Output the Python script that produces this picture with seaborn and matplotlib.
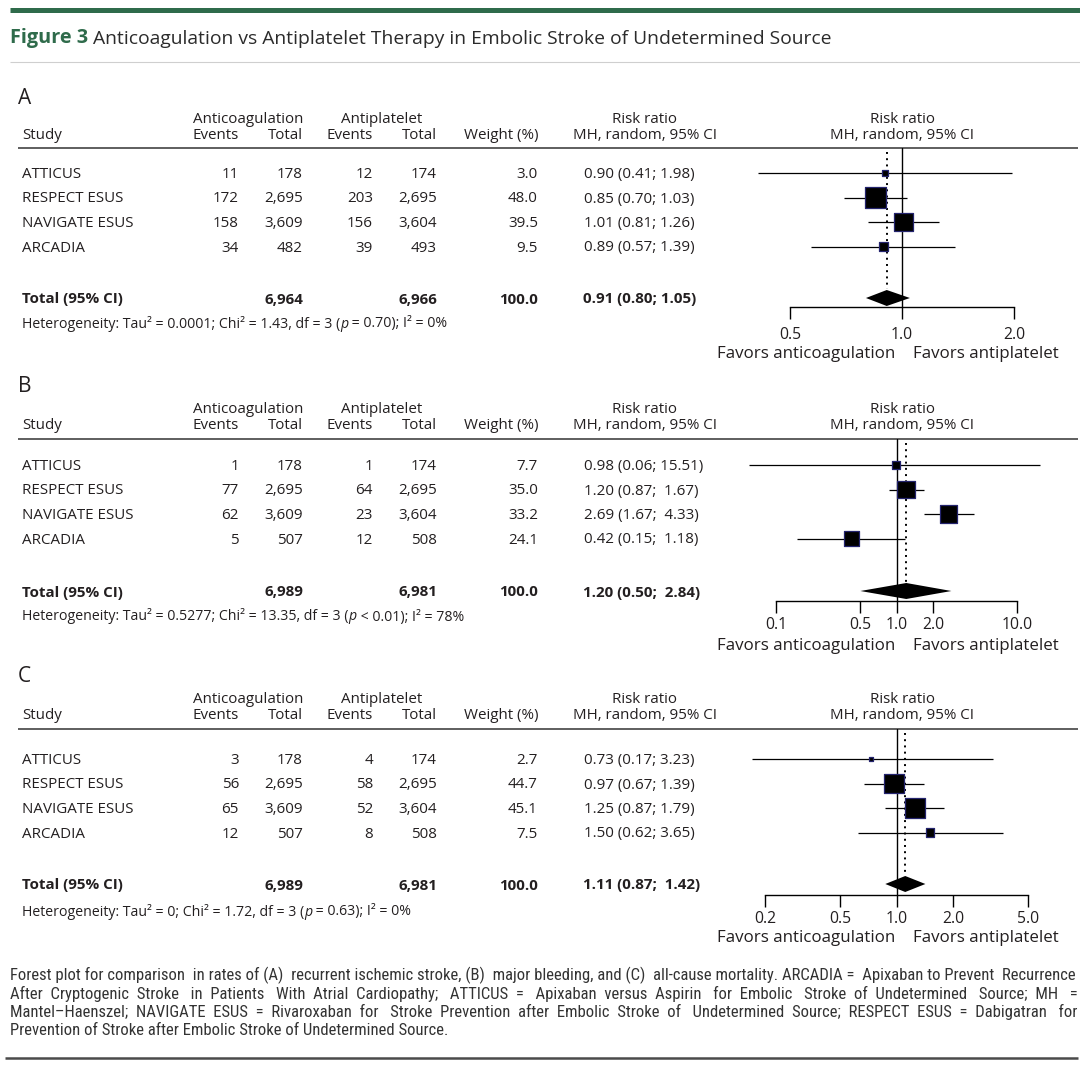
import numpy as np
import pandas as pd
import matplotlib
matplotlib.use('Agg')
import matplotlib.pyplot as plt
from matplotlib import font_manager as fm
import seaborn as sns

sns.set_theme(style='white')
plt.rcParams['font.family'] = ['Open Sans', 'DejaVu Sans']

# ------------------------------------------------------------
# data
# ------------------------------------------------------------
studies = ['ATTICUS', 'RESPECT ESUS', 'NAVIGATE ESUS', 'ARCADIA']

# A - recurrent ischemic stroke
ev_ac_a = [11, 172, 158, 34]
n_ac_a = [178, 2695, 3609, 482]
ev_ap_a = [12, 203, 156, 39]
n_ap_a = [174, 2695, 3604, 493]
w_a = [3.0, 48.0, 39.5, 9.5]
rr_a = [0.90, 0.85, 1.01, 0.89]
lo_a = [0.41, 0.70, 0.81, 0.57]
hi_a = [1.98, 1.03, 1.26, 1.39]
tot_a = [6964, 6966, 100.0, 0.91, 0.80, 1.05]
het_a = ('Heterogeneity: Tau² = 0.0001; Chi² = 1.43, df = 3 (', ' = 0.70); I² = 0%')

# B - major bleeding
ev_ac_b = [1, 77, 62, 5]
n_ac_b = [178, 2695, 3609, 507]
ev_ap_b = [1, 64, 23, 12]
n_ap_b = [174, 2695, 3604, 508]
w_b = [7.7, 35.0, 33.2, 24.1]
rr_b = [0.98, 1.20, 2.69, 0.42]
lo_b = [0.06, 0.87, 1.67, 0.15]
hi_b = [15.51, 1.67, 4.33, 1.18]
tot_b = [6989, 6981, 100.0, 1.20, 0.50, 2.84]
het_b = ('Heterogeneity: Tau² = 0.5277; Chi² = 13.35, df = 3 (', ' < 0.01); I² = 78%')

# C - all-cause mortality
ev_ac_c = [3, 56, 65, 12]
n_ac_c = [178, 2695, 3609, 507]
ev_ap_c = [4, 58, 52, 8]
n_ap_c = [174, 2695, 3604, 508]
w_c = [2.7, 44.7, 45.1, 7.5]
rr_c = [0.73, 0.97, 1.25, 1.50]
lo_c = [0.17, 0.67, 0.87, 0.62]
hi_c = [3.23, 1.39, 1.79, 3.65]
tot_c = [6989, 6981, 100.0, 1.11, 0.87, 1.42]
het_c = ('Heterogeneity: Tau² = 0; Chi² = 1.72, df = 3 (', ' = 0.63); I² = 0%')

ticks_a = [0.5, 1.0, 2.0]
ticks_b = [0.1, 0.5, 1.0, 2.0, 10.0]
ticks_c = [0.2, 0.5, 1.0, 2.0, 5.0]

title_bold = 'Figure 3'
title_rest = ' Anticoagulation vs Antiplatelet Therapy in Embolic Stroke of Undetermined Source'
caption_lines = [
    'Forest plot for comparison in rates of (A) recurrent ischemic stroke, (B) major bleeding, and (C) all-cause mortality. ARCADIA = Apixaban to Prevent Recurrence',
    'After Cryptogenic Stroke in Patients With Atrial Cardiopathy; ATTICUS = Apixaban versus Aspirin for Embolic Stroke of Undetermined Source; MH =',
    'Mantel–Haenszel; NAVIGATE ESUS = Rivaroxaban for Stroke Prevention after Embolic Stroke of Undetermined Source; RESPECT ESUS = Dabigatran for',
    'Prevention of Stroke after Embolic Stroke of Undetermined Source.',
]

panels = [
    dict(letter='A', ev_ac=ev_ac_a, n_ac=n_ac_a, ev_ap=ev_ap_a, n_ap=n_ap_a, w=w_a,
         rr=rr_a, lo=lo_a, hi=hi_a, tot=tot_a, het=het_a, ticks=ticks_a,
         y_letter=98, y_h1=118, y_h2=134, y_line=147.7, y_row0=173, y_total=298,
         y_het=322, y_axis=307, x1=902, ppd=372, hiw=4, pad=6.0, fav=45),
    dict(letter='B', ev_ac=ev_ac_b, n_ac=n_ac_b, ev_ap=ev_ap_b, n_ap=n_ap_b, w=w_b,
         rr=rr_b, lo=lo_b, hi=hi_b, tot=tot_b, het=het_b, ticks=ticks_b,
         y_letter=387, y_h1=408, y_h2=424, y_line=439, y_row0=465, y_total=591,
         y_het=615, y_axis=601, x1=896.7, ppd=120.7, hiw=5, pad=2.6, fav=43),
    dict(letter='C', ev_ac=ev_ac_c, n_ac=n_ac_c, ev_ap=ev_ap_c, n_ap=n_ap_c, w=w_c,
         rr=rr_c, lo=lo_c, hi=hi_c, tot=tot_c, het=het_c, ticks=ticks_c,
         y_letter=677, y_h1=698, y_h2=714, y_line=729, y_row0=759, y_total=884,
         y_het=910, y_axis=895, x1=896.7, ppd=188.4, hiw=4, pad=2.8, fav=42),
]

# ------------------------------------------------------------
# figure in pixel coordinates
# ------------------------------------------------------------
W, H = 1080, 1068
TXT = '#231f20'
GREEN = '#2f6b4b'
fig = plt.figure(figsize=(W / 100, H / 100), dpi=100)
bg = fig.add_axes([0, 0, 1, 1])
bg.set_xlim(0, W)
bg.set_ylim(H, 0)
bg.axis('off')

# title block
bg.hlines(9.5, 10, W, color=GREEN, lw=3.6)
t1 = bg.text(10, 38, title_bold, fontsize=14.3, fontweight='bold', color=GREEN,
             ha='left', va='center')
bg.annotate(title_rest, xy=(1, 0), xycoords=t1, ha='left', va='bottom',
            fontsize=13.85, color='#2b2b2b')
bg.hlines(62, 10, W, color='#cfcfcf', lw=0.8)

FS = 10.9
FS_HET = 10.2
DY = 1.5  # text centre vs. row centre
col_ev_ac, col_n_ac, col_ev_ap, col_n_ap, col_w = 239, 303, 373, 437, 538
col_rr = 584
row_step = 24.5


def txt(x, y, s, ha='left', bold=False, size=FS):
    return bg.text(x, y + DY, s, fontsize=size, color=TXT, ha=ha, va='center',
                   fontweight='bold' if bold else 'normal')


for p in panels:
    # headers
    bg.text(18, p['y_letter'], p['letter'], fontsize=15, color=TXT, ha='left', va='center')
    txt(248, p['y_h1'], 'Anticoagulation', ha='center')
    txt(382, p['y_h1'], 'Antiplatelet', ha='center')
    txt(22, p['y_h2'], 'Study')
    for x, lab in [(col_ev_ac, 'Events'), (col_n_ac, 'Total'), (col_ev_ap, 'Events'),
                   (col_n_ap, 'Total'), (col_w, 'Weight (%)')]:
        txt(x, p['y_h2'], lab, ha='right')
    for xc in [645, 902]:
        txt(xc, p['y_h1'], 'Risk ratio', ha='center')
        txt(xc, p['y_h2'], 'MH, random, 95% CI', ha='center')
    bg.hlines(p['y_line'], 18, 1078, color='#333333', lw=1.1)

    # study rows
    row_y = [p['y_row0'] + i * row_step for i in range(len(studies))]
    for i, y in enumerate(row_y):
        txt(22, y, studies[i])
        txt(col_ev_ac, y, f"{p['ev_ac'][i]:,}", ha='right')
        txt(col_n_ac, y, f"{p['n_ac'][i]:,}", ha='right')
        txt(col_ev_ap, y, f"{p['ev_ap'][i]:,}", ha='right')
        txt(col_n_ap, y, f"{p['n_ap'][i]:,}", ha='right')
        txt(col_w, y, f"{p['w'][i]:.1f}", ha='right')
        hi_txt = f"{p['hi'][i]:.2f}".rjust(p['hiw'])
        txt(col_rr, y, f"{p['rr'][i]:.2f} ({p['lo'][i]:.2f}; {hi_txt})")

    # total row
    t = p['tot']
    ty = p['y_total']
    txt(22, ty, 'Total (95% CI)', bold=True)
    txt(col_n_ac, ty, f"{t[0]:,}", ha='right', bold=True)
    txt(col_n_ap, ty, f"{t[1]:,}", ha='right', bold=True)
    txt(col_w, ty, f"{t[2]:.1f}", ha='right', bold=True)
    hi_tot = f"{t[5]:.2f}".rjust(5 if p['letter'] != 'A' else 4)
    txt(col_rr - 1, ty, f"{t[3]:.2f} ({t[4]:.2f}; {hi_tot})", bold=True)

    # heterogeneity line with italic p
    h1 = txt(22, p['y_het'], p['het'][0], size=FS_HET)
    h2 = bg.annotate('p', xy=(1, 0), xycoords=h1, ha='left', va='bottom',
                     fontsize=FS_HET, color=TXT, fontstyle='italic')
    bg.annotate(p['het'][1], xy=(1, 0), xycoords=h2, ha='left', va='bottom',
                fontsize=FS_HET, color=TXT)

    # forest plot axes, log scale, y in pixels
    left, right = 712, 1078
    top, bottom = p['y_line'], p['y_axis']
    ax = fig.add_axes([left / W, 1 - bottom / H, (right - left) / W, (bottom - top) / H])
    ax.set_facecolor('none')
    ax.set_xscale('log')
    ax.set_xlim(10 ** ((left - p['x1']) / p['ppd']), 10 ** ((right - p['x1']) / p['ppd']))
    ax.set_ylim(bottom, top)

    ax.axvline(1.0, color='black', lw=1.0, zorder=1)
    ax.vlines(t[3], top + 4, ty - 9, colors='black', linestyles=(0, (1, 2.2)), lw=1.4, zorder=1)
    ax.hlines(row_y, p['lo'], p['hi'], colors='black', lw=0.9, zorder=2)
    df = pd.DataFrame({'rr': p['rr'], 'y': row_y, 'weight': p['w']})
    sns.scatterplot(data=df, x='rr', y='y', size='weight', sizes=(0, 460), size_norm=(0, 100),
                    marker='s', color='black', edgecolor='#24246e', linewidth=0.9,
                    legend=False, ax=ax, zorder=3)
    ax.fill([t[4], t[3], t[5], t[3]], [ty, ty - 8, ty, ty + 8], color='black', lw=0, zorder=3)

    for s in ['left', 'right', 'top']:
        ax.spines[s].set_visible(False)
    ax.spines['bottom'].set_bounds(p['ticks'][0], p['ticks'][-1])
    ax.spines['bottom'].set_color('black')
    ax.spines['bottom'].set_linewidth(1.0)
    ax.set_xticks(p['ticks'])
    ax.set_xticklabels([f"{v:.1f}" for v in p['ticks']])
    ax.xaxis.set_minor_locator(matplotlib.ticker.NullLocator())
    ax.set_yticks([])
    ax.set_xlabel('')
    ax.set_ylabel('')
    ax.tick_params(axis='x', bottom=True, direction='out', length=8.6, width=1.0,
                   color='black', labelsize=11.3, labelcolor=TXT, pad=p['pad'])

    fy = p['y_axis'] + p['fav'] + DY
    bg.text(895, fy, 'Favors anticoagulation', fontsize=12.2, color=TXT, ha='right', va='center')
    bg.text(913, fy, 'Favors antiplatelet', fontsize=12.2, color=TXT, ha='left', va='center')

# caption: condensed face if one is installed, lines justified by padding spaces
cap_font = dict(family='Liberation Sans', fontstretch='normal')
cands = [f for f in fm.fontManager.ttflist
         if (f.stretch not in ('normal', 500) or 'narrow' in f.name.lower()
             or 'condensed' in f.name.lower())
         and f.style == 'normal' and f.weight in (400, 'normal', 'regular', 'book')]
for pref in ['Open Sans', 'Liberation Sans Narrow', 'Roboto', 'DejaVu Sans', 'Noto Sans']:
    hit = [f for f in cands if f.name.startswith(pref)]
    if hit:
        cap_font = dict(family=hit[0].name, fontstretch=hit[0].stretch)
        break

renderer = fig.canvas.get_renderer()
cap_y = [975, 993.5, 1012, 1030.5]
x_l, x_r = 10, 1077


def width(s, size):
    a = bg.text(0, 0, s, fontsize=size, **cap_font)
    wd = a.get_window_extent(renderer=renderer).width
    a.remove()
    return wd


def line_fit(k, size):
    words = caption_lines[k].split(' ')
    w0 = width(' '.join(words), size)
    sp = (width('  '.join(words), size) - w0) / (len(words) - 1)
    return words, w0, sp


# largest size at which the first (tightest) line fits with plain word gaps
cap_size = 12.0
while cap_size > 8:
    words, w0, sp = line_fit(0, cap_size)
    if w0 <= x_r - x_l - 0.1 * sp * (len(words) - 1):
        break
    cap_size -= 0.1

for k, line in enumerate(caption_lines):
    if k < len(caption_lines) - 1:
        words, w0, sp = line_fit(k, cap_size)
        n_gap = len(words) - 1
        extra = max(0, int(round((x_r - x_l - w0) / sp)))
        out = words[0]
        for g in range(n_gap):
            n_sp = 1 + (g + 1) * extra // n_gap - g * extra // n_gap
            out += ' ' * n_sp + words[g + 1]
        line = out
    bg.text(x_l, cap_y[k], line, fontsize=cap_size, color='#333333', ha='left',
            va='center', **cap_font)

bg.hlines(1058, 5, 1078, color='#4a4a4a', lw=1.8)

fig.savefig('out.png', dpi=100)
